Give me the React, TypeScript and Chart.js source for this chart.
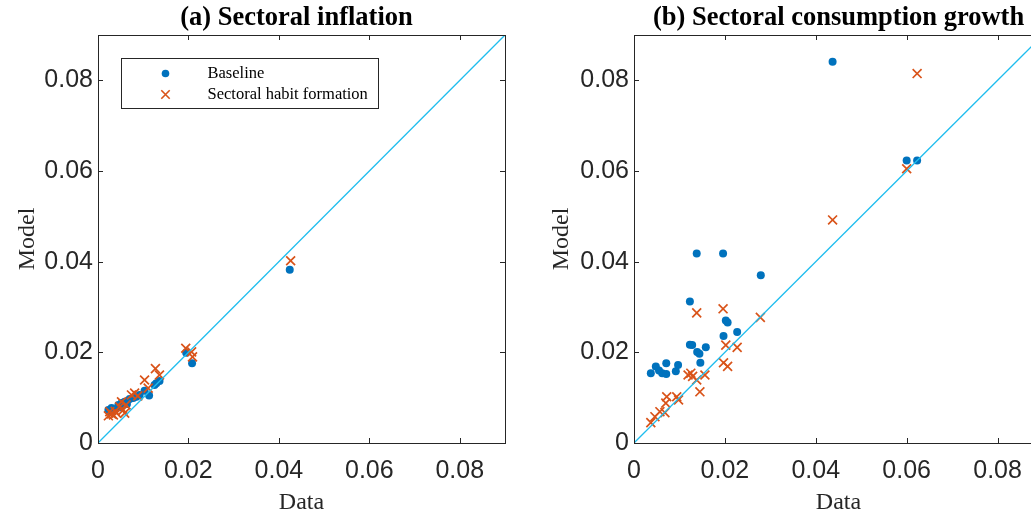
import React, { useEffect, useRef } from "react";
import { Chart, registerables } from "chart.js";

Chart.register(...registerables);

// ---- data ----
const tickValues = [0, 0.02, 0.04, 0.06, 0.08];
const tickLabels = ["0", "0.02", "0.04", "0.06", "0.08"];
const axisMax = 0.09;
const diagonalX = [0, 0.09];
const diagonalY = [0, 0.09];

const titles = ["(a) Sectoral inflation", "(b) Sectoral consumption growth"];
const seriesNames = ["Baseline", "Sectoral habit formation"];

const inflBaseX = [0.0023, 0.0027, 0.003, 0.0036, 0.0045, 0.005, 0.0052, 0.0059, 0.0064, 0.007, 0.0078, 0.0085, 0.0092, 0.0103, 0.0113, 0.0125, 0.0129, 0.0136, 0.0195, 0.0208, 0.0424];
const inflBaseY = [0.0073, 0.007, 0.0077, 0.0074, 0.0084, 0.0079, 0.0088, 0.0091, 0.0086, 0.0097, 0.0099, 0.0102, 0.0106, 0.0115, 0.0105, 0.0128, 0.0132, 0.0137, 0.0199, 0.0176, 0.0382];

const inflHabitX = [0.0023, 0.0026, 0.003, 0.0034, 0.0038, 0.0041, 0.0048, 0.0052, 0.0056, 0.0059, 0.0062, 0.0074, 0.0081, 0.0088, 0.0103, 0.0111, 0.0127, 0.0136, 0.0194, 0.0207, 0.0209, 0.0426];
const inflHabitY = [0.006, 0.0069, 0.0064, 0.0062, 0.007, 0.0066, 0.008, 0.0091, 0.0073, 0.0066, 0.0084, 0.0106, 0.011, 0.0104, 0.0139, 0.0121, 0.0164, 0.015, 0.0209, 0.0201, 0.019, 0.0402];

const consBaseX = [0.0037, 0.0048, 0.0055, 0.0062, 0.0071, 0.0071, 0.0092, 0.0097, 0.0123, 0.0123, 0.0128, 0.0138, 0.0139, 0.0144, 0.0146, 0.0158, 0.0196, 0.0197, 0.0202, 0.0206, 0.0227, 0.0279, 0.0437, 0.06, 0.0623];
const consBaseY = [0.0154, 0.0169, 0.016, 0.0154, 0.0176, 0.0152, 0.0158, 0.0172, 0.0312, 0.0217, 0.0216, 0.0418, 0.0201, 0.0197, 0.0177, 0.0211, 0.0418, 0.0236, 0.027, 0.0266, 0.0245, 0.037, 0.0841, 0.0623, 0.0623];

const consHabitX = [0.0037, 0.0046, 0.0057, 0.0068, 0.007, 0.0072, 0.0094, 0.0098, 0.0119, 0.0125, 0.0129, 0.0138, 0.0138, 0.0145, 0.0156, 0.0197, 0.0196, 0.0202, 0.0206, 0.0227, 0.0278, 0.0437, 0.06, 0.0623];
const consHabitY = [0.0045, 0.0058, 0.0069, 0.0067, 0.0088, 0.0102, 0.0102, 0.0095, 0.015, 0.0154, 0.0147, 0.0287, 0.0139, 0.0113, 0.015, 0.0177, 0.0296, 0.0216, 0.0169, 0.0211, 0.0277, 0.0492, 0.0605, 0.0815];

// ---- style ----
const BLUE = "#0072BD";
const RED = "#D95319";
const CYAN = "#1FBDEE";
const AXIS = "#262626";

const pts = (xs: number[], ys: number[]) => xs.map((x, i) => ({ x, y: ys[i] }));

const framePlugin = {
  id: "frame",
  afterDraw(chart: any, _args: any, opts: any) {
    const { ctx, chartArea: a, scales } = chart;
    ctx.save();
    ctx.strokeStyle = AXIS;
    ctx.lineWidth = 1;
    ctx.strokeRect(Math.round(a.left) + 0.5, Math.round(a.top) + 0.5, Math.round(a.right - a.left), Math.round(a.bottom - a.top));
    const tl = 5;
    ctx.beginPath();
    for (const v of tickValues) {
      if (v === 0) continue;
      const px = Math.round(scales.x.getPixelForValue(v)) + 0.5;
      ctx.moveTo(px, a.bottom);
      ctx.lineTo(px, a.bottom - tl);
      ctx.moveTo(px, a.top);
      ctx.lineTo(px, a.top + tl);
      const py = Math.round(scales.y.getPixelForValue(v)) + 0.5;
      ctx.moveTo(a.left, py);
      ctx.lineTo(a.left + tl, py);
      ctx.moveTo(a.right, py);
      ctx.lineTo(a.right - tl, py);
    }
    ctx.stroke();
    // title
    ctx.fillStyle = "#000";
    ctx.font = "bold 26.5px 'Liberation Serif', 'Times New Roman', serif";
    ctx.textAlign = "center";
    ctx.textBaseline = "middle";
    ctx.fillText(opts.title, (a.left + a.right) / 2 + opts.titleShift, 18);
    // legend
    if (opts.legend) {
      const lx = a.left + 23.5;
      const ly = a.top + 23.5;
      const w = 257;
      const h = 50;
      ctx.fillStyle = "#fff";
      ctx.fillRect(lx, ly, w, h);
      ctx.strokeStyle = AXIS;
      ctx.strokeRect(lx, ly, w, h);
      ctx.fillStyle = BLUE;
      ctx.beginPath();
      ctx.arc(lx + 44, ly + 15, 3.8, 0, Math.PI * 2);
      ctx.fill();
      ctx.strokeStyle = RED;
      ctx.lineWidth = 1.6;
      const cx = lx + 44, cy = ly + 36, r = 4.2;
      ctx.beginPath();
      ctx.moveTo(cx - r, cy - r); ctx.lineTo(cx + r, cy + r);
      ctx.moveTo(cx - r, cy + r); ctx.lineTo(cx + r, cy - r);
      ctx.stroke();
      ctx.fillStyle = "#000";
      ctx.font = "16.5px 'Liberation Serif', 'Times New Roman', serif";
      ctx.textAlign = "left";
      ctx.fillText(opts.names[0], lx + 86, ly + 15);
      ctx.fillText(opts.names[1], lx + 86, ly + 36);
    }
    ctx.restore();
  },
};

function makeConfig(baseX: number[], baseY: number[], habX: number[], habY: number[], title: string, legend: boolean, yAxisWidth: number, padRight: number, yTitlePad: number, titleShift: number) {
  const tickFont = { family: "'Liberation Sans', Arial, sans-serif", size: 25 };
  const titleFont = { family: "'Liberation Serif', 'Times New Roman', serif", size: 24 };
  return {
    type: "scatter" as const,
    data: {
      datasets: [
        {
          type: "line" as const,
          label: "45 degree",
          data: pts(diagonalX, diagonalY),
          borderColor: CYAN,
          borderWidth: 1.3,
          pointRadius: 0,
          fill: false,
        },
        {
          label: seriesNames[1],
          data: pts(habX, habY),
          pointStyle: "crossRot",
          pointRadius: 6.3,
          borderColor: RED,
          borderWidth: 1.7,
          backgroundColor: RED,
        },
        {
          label: seriesNames[0],
          data: pts(baseX, baseY),
          pointStyle: "circle",
          pointRadius: 4,
          borderWidth: 0,
          backgroundColor: BLUE,
        },
      ],
    },
    options: {
      responsive: false,
      animation: false as const,
      layout: { padding: { top: 35, right: padRight, left: 0, bottom: 0 } },
      plugins: {
        legend: { display: false },
        tooltip: { enabled: false },
        frame: { title, legend, names: seriesNames, titleShift },
      },
      scales: {
        x: {
          type: "linear" as const,
          min: 0,
          max: axisMax,
          afterBuildTicks: (s: any) => { s.ticks = tickValues.map((v) => ({ value: v })); },
          afterFit: (s: any) => { s.height = 75; },
          grid: { display: false, drawTicks: false },
          border: { display: false },
          ticks: { font: tickFont, color: AXIS, padding: 13, maxRotation: 0, autoSkip: false, callback: (_v: any, i: number) => tickLabels[i] },
          title: { display: true, text: "Data", font: titleFont, color: AXIS, padding: { top: 2, bottom: 1 } },
        },
        y: {
          type: "linear" as const,
          min: 0,
          max: axisMax,
          afterBuildTicks: (s: any) => { s.ticks = tickValues.map((v) => ({ value: v })); },
          afterFit: (s: any) => { s.width = yAxisWidth; },
          grid: { display: false, drawTicks: false },
          border: { display: false },
          ticks: { font: tickFont, color: AXIS, padding: 5, autoSkip: false, callback: (_v: any, i: number) => tickLabels[i] },
          title: { display: true, text: "Model", font: titleFont, color: AXIS, padding: { top: yTitlePad, bottom: 0 } },
        },
      },
    },
    plugins: [framePlugin],
  };
}

function Panel(props: { left: number; width: number; cfg: any }) {
  const ref = useRef<HTMLCanvasElement>(null);
  useEffect(() => {
    const chart = new Chart(ref.current as HTMLCanvasElement, props.cfg);
    return () => chart.destroy();
  }, []);
  return (
    <canvas
      ref={ref}
      width={props.width}
      height={518}
      style={{ position: "absolute", left: props.left, top: 0, width: props.width, height: 518 }}
    />
  );
}

export default function App() {
  const left = makeConfig(inflBaseX, inflBaseY, inflHabitX, inflHabitY, titles[0], true, 98, 15, 13, -5);
  const right = makeConfig(consBaseX, consBaseY, consHabitX, consHabitY, titles[1], false, 114, 17, 27, 0);
  return (
    <div style={{ position: "fixed", left: 0, top: 0, width: 1031, height: 518, overflow: "hidden", background: "#fff" }}>
      <Panel left={0} width={520} cfg={left} />
      <Panel left={520} width={540} cfg={right} />
    </div>
  );
}
